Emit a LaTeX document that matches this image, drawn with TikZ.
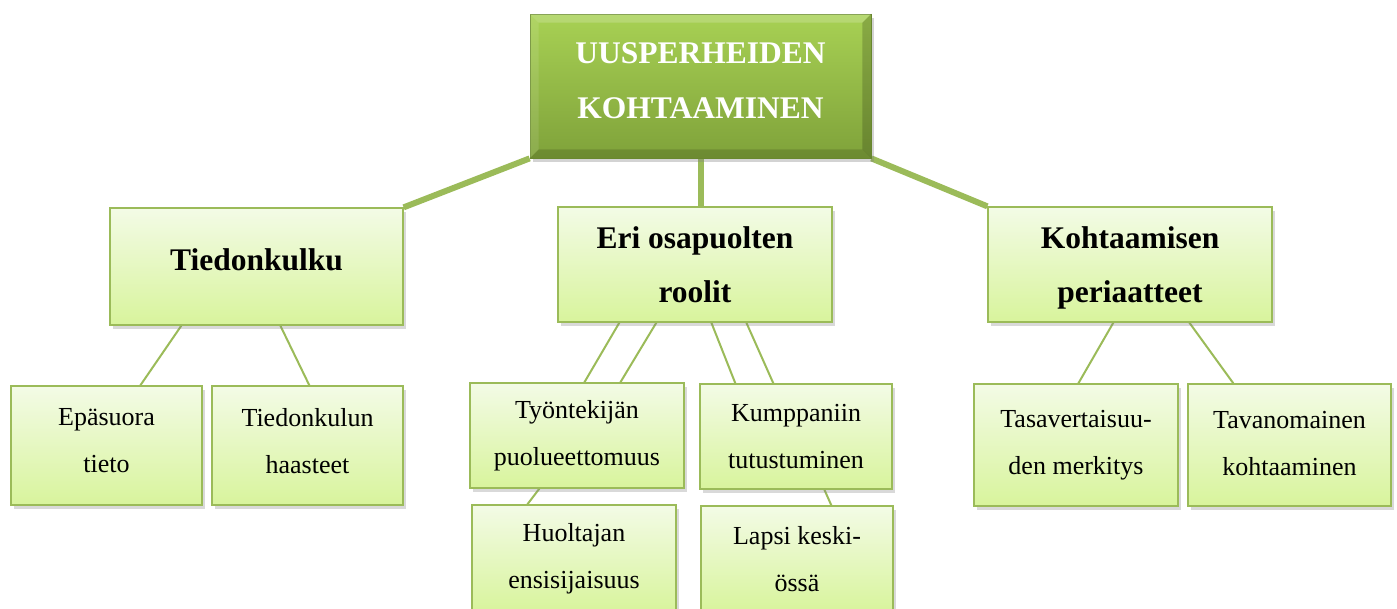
\documentclass[tikz,border=0pt]{standalone}
\usepackage{fontspec}
\setmainfont{Liberation Serif}
\usetikzlibrary{shadows,calc}
\definecolor{ln}{HTML}{9BBB59}
\definecolor{boxtop}{HTML}{F3FBE6}
\definecolor{boxbot}{HTML}{D8F49C}
\definecolor{gtop}{HTML}{A8D154}
\definecolor{gbot}{HTML}{7FA23A}
\definecolor{gedge}{HTML}{6F8F33}
\pgfdeclarelayer{bg}\pgfsetlayers{bg,main}
\newcommand{\dn}[1]{\rule[-#1]{0pt}{#1}}
\begin{document}
\begin{tikzpicture}[x=1pt,y=-1pt,
  box/.style={draw=ln, line width=1.3pt, top color=boxtop, bottom color=boxbot,
    align=center, inner sep=0pt,
    drop shadow={shadow xshift=2.5pt,shadow yshift=-3.5pt,opacity=0.3}},
  big/.style={box, font=\fontsize{31.5}{54}\selectfont\bfseries},
  small/.style={box, font=\fontsize{26}{47}\selectfont},
  mainbox/.style={draw=gedge, line width=0.8pt, top color=gtop, bottom color=gbot,
    align=center, inner sep=0pt, text=white,
    font=\fontsize{31.5}{55}\selectfont\bfseries,
    drop shadow={shadow xshift=2.5pt,shadow yshift=-3.5pt,opacity=0.35}},
  thicklink/.style={draw=ln, line width=6pt},
  thinlink/.style={draw=ln, line width=2pt}]
\useasboundingbox (0,0) rectangle (1397,608);

\node[mainbox, minimum width=341pt, minimum height=144pt] (top) at (700.5,86) {UUSPERHEIDEN\\KOHTAAMINEN\dn{10pt}};
% bevel
\fill[white, opacity=0.18] (top.north west) -- (top.north east) -- ($(top.north east)+(-9,9)$) -- ($(top.north west)+(9,9)$) -- cycle;
\fill[white, opacity=0.10] (top.north west) -- ($(top.north west)+(9,9)$) -- ($(top.south west)+(9,-9)$) -- (top.south west) -- cycle;
\fill[black, opacity=0.18] (top.north east) -- (top.south east) -- ($(top.south east)+(-9,-9)$) -- ($(top.north east)+(-9,9)$) -- cycle;
\fill[black, opacity=0.14] (top.south west) -- (top.south east) -- ($(top.south east)+(-9,-9)$) -- ($(top.south west)+(9,-9)$) -- cycle;

\node[big, minimum width=293pt, minimum height=117pt] (tk) at (256.5,266.5) {Tiedonkulku\dn{14pt}};
\node[big, minimum width=274pt, minimum height=115pt] (eri) at (695,264.5) {Eri osapuolten\\roolit};
\node[big, minimum width=284pt, minimum height=115pt] (kp) at (1130,264.5) {\rule{0pt}{29.5pt}Kohtaamisen\\periaatteet};

\node[small, minimum width=191pt, minimum height=119pt] (ep) at (106.5,445.5) {Epäsuora\\tieto\dn{10pt}};
\node[small, minimum width=191pt, minimum height=119pt] (th) at (307.5,445.5) {Tiedonkulun\\haasteet\dn{10pt}};
\node[small, minimum width=214pt, minimum height=105pt] (ty) at (577,435.5) {Työntekijän\\puolueettomuus};
\node[small, minimum width=192pt, minimum height=105pt] (ku) at (796,436.5) {Kumppaniin\\tutustuminen};
\node[small, minimum width=204pt, minimum height=107pt] (hu) at (574,558.5) {Huoltajan\\ensisijaisuus};
\node[small, minimum width=192pt, minimum height=106pt] (la) at (797,559) {Lapsi keski-\\össä};
\node[small, minimum width=204pt, minimum height=122pt] (tas) at (1076,445) {Tasavertaisuu-\\den merkitys\dn{4pt}};
\node[small, minimum width=203pt, minimum height=122pt] (tav) at (1289.5,445) {Tavanomainen\\kohtaaminen\dn{4pt}};

\begin{pgfonlayer}{bg}
\draw[thicklink] (top.south west) -- (tk.north east);
\draw[thicklink] (top.south) -- (top.south |- eri.north);
\draw[thicklink] (top.south east) -- (kp.north west);
\draw[thinlink] ([xshift=72pt]tk.south west) -- ([xshift=130pt]ep.north west);
\draw[thinlink] ([xshift=171pt]tk.south west) -- ([xshift=98pt]th.north west);
\draw[thinlink] ([xshift=62pt]eri.south west) -- ([xshift=115pt]ty.north west);
\draw[thinlink] ([xshift=99pt]eri.south west) -- ([xshift=151pt]ty.north west);
\draw[thinlink] ([xshift=154pt]eri.south west) -- ([xshift=36pt]ku.north west);
\draw[thinlink] ([xshift=189pt]eri.south west) -- ([xshift=74pt]ku.north west);
\draw[thinlink] ([xshift=70pt]ty.south west) -- ([xshift=56pt]hu.north west);
\draw[thinlink] ([xshift=125pt]ku.south west) -- ([xshift=131pt]la.north west);
\draw[thinlink] ([xshift=126pt]kp.south west) -- ([xshift=105pt]tas.north west);
\draw[thinlink] ([xshift=202pt]kp.south west) -- ([xshift=46pt]tav.north west);
\end{pgfonlayer}
\end{tikzpicture}
\end{document}
